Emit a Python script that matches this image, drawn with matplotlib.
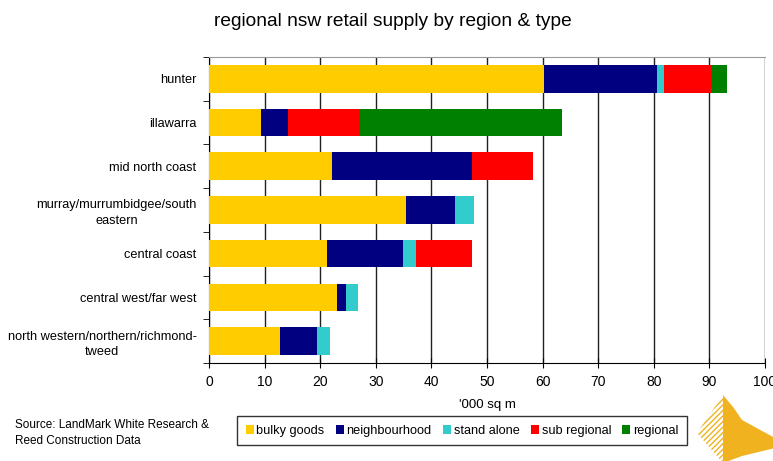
import matplotlib
matplotlib.use("Agg")
import numpy as np
import matplotlib.pyplot as plt
from matplotlib.patches import Polygon

plt.rcParams['font.family'] = ['Liberation Sans', 'DejaVu Sans']

regions = ['hunter', 'illawarra', 'mid north coast',
           'murray/murrumbidgee/south\neastern', 'central coast',
           'central west/far west', 'north western/northern/richmond-\ntweed']
types = ['bulky goods', 'neighbourhood', 'stand alone', 'sub regional', 'regional']
colors = ['#FFCC00', '#000080', '#33CCCC', '#FF0000', '#008000']

bulky_goods = [60.2, 9.3, 22.1, 35.5, 21.3, 23.0, 12.8]
neighbourhood = [20.4, 4.9, 25.2, 8.8, 13.5, 1.7, 6.6]
stand_alone = [1.3, 0.0, 0.0, 3.4, 2.5, 2.1, 2.4]
sub_regional = [8.6, 12.9, 11.0, 0.0, 10.0, 0.0, 0.0]
regional = [2.7, 36.3, 0.0, 0.0, 0.0, 0.0, 0.0]
series = [bulky_goods, neighbourhood, stand_alone, sub_regional, regional]

fig = plt.figure(figsize=(7.73, 4.61), dpi=100)
ax = fig.add_axes([0.2704, 0.2126, 0.7193, 0.6638])

y = np.arange(len(regions))
left = np.zeros(len(regions))
for name, vals, c in zip(types, series, colors):
    ax.barh(y, vals, left=left, height=0.63, color=c, label=name, zorder=3)
    left += np.array(vals)

ax.set_ylim(len(regions) - 0.5, -0.5)
ax.set_xlim(0, 100)
ax.set_xticks(np.arange(0, 101, 10))
ax.tick_params(axis='x', direction='inout', length=7, labelsize=10, pad=5)
ax.set_yticks(y)
ax.set_yticklabels(regions, fontsize=9.2, multialignment='center', linespacing=1.35)
ax.set_yticks(np.arange(-0.5, len(regions), 1), minor=True)
ax.tick_params(axis='y', which='major', length=0, pad=9)
ax.tick_params(axis='y', which='minor', length=4, direction='out')
ax.grid(axis='x', color='#222222', linewidth=1, zorder=0)
ax.spines['right'].set_visible(False)
ax.spines['top'].set_color('#999999')
ax.set_xlabel("'000 sq m", fontsize=9.5, labelpad=7)

fig.text(0.508, 0.954, 'regional nsw retail supply by region & type',
         ha='center', va='center', fontsize=13.8)

fig.legend(loc='center', bbox_to_anchor=(0.5977, 0.0655), ncol=5,
           fontsize=9.2, frameon=True, fancybox=False, edgecolor='black',
           handlelength=0.65, handleheight=0.65, handletextpad=0.2,
           columnspacing=0.87, borderpad=0.65, borderaxespad=0)

fig.text(0.019, 0.061, 'Source: LandMark White Research &\nReed Construction Data',
         ha='left', va='center', fontsize=8.5, linespacing=1.5)

# logo in the lower right corner
orange = '#F0B21E'
tr = fig.transFigure
def px(pts):
    return [(x / 773, 1 - yy / 461) for x, yy in pts]
fig.patches.append(Polygon(px([(723, 395), (697, 433), (723, 463)]),
                           closed=True, facecolor='white', edgecolor=orange,
                           hatch='//////', linewidth=0, transform=tr))
fig.patches.append(Polygon(px([(723, 395), (733, 407), (742, 420), (775, 438),
                               (775, 448), (742, 456), (723, 463)]),
                           closed=True, facecolor=orange, edgecolor='none',
                           transform=tr))

fig.savefig('out.png', dpi=100)
